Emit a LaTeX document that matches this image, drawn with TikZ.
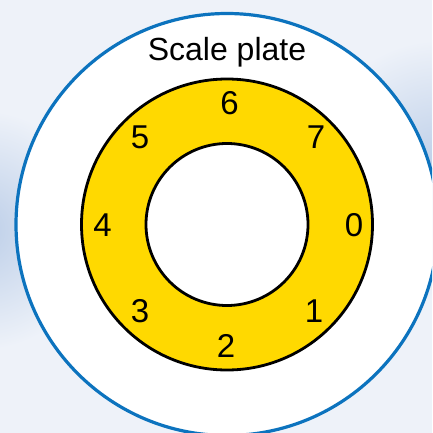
\documentclass[tikz,border=0pt]{standalone}
\usepackage{fontspec}
\setmainfont{Liberation Sans}
\definecolor{bgpale}{RGB}{238,242,249}
\definecolor{bgblue}{RGB}{188,206,232}
\definecolor{plateblue}{RGB}{12,115,190}
\definecolor{ringgold}{RGB}{255,217,0}
\tikzset{
  digit/.style={font=\fontsize{33}{33}\selectfont, inner sep=0pt},
  title/.style={font=\fontsize{32}{32}\selectfont, inner sep=0pt},
}
\begin{document}
\begin{tikzpicture}[x=1pt,y=-1pt]
\useasboundingbox (0,0) rectangle (432,433);
\begin{scope}
\clip (0,0) rectangle (432,433);
\fill[bgpale] (0,0) rectangle (432,433);
\shade[inner color=bgblue, outer color=bgpale] (-20,230) circle (120);
\shade[inner color=bgblue, outer color=bgpale] (440,170) circle (130);
\draw[plateblue, line width=3.2pt, fill=white] (227,224.5) circle (211);
\draw[black, line width=2.8pt, fill=ringgold] (227,224.5) circle (145.5);
\draw[black, line width=2.8pt, fill=white] (227,224.5) circle (81);
\end{scope}
\node[title] (scale) at (227,52) {Scale plate};
\node[digit] (d6) at (229.5,103.5) {6};
\node[digit] (d7) at (316,137.5) {7};
\node[digit] (d0) at (354,225) {0};
\node[digit] (d1) at (314,311.5) {1};
\node[digit] (d2) at (226,346) {2};
\node[digit] (d3) at (140,311.5) {3};
\node[digit] (d4) at (102.5,225) {4};
\node[digit] (d5) at (140,137.5) {5};
\end{tikzpicture}
\end{document}
